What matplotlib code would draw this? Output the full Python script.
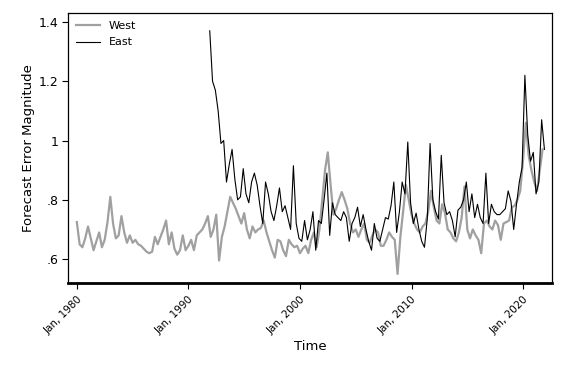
import matplotlib
matplotlib.use("Agg")
import matplotlib.pyplot as plt
import pandas as pd

west_start = "1980-01-01"
west = [
    0.725, 0.65, 0.64, 0.67, 0.71, 0.67, 0.63, 0.66,
    0.69, 0.64, 0.665, 0.725, 0.81, 0.72, 0.67, 0.68,
    0.745, 0.69, 0.655, 0.68, 0.655, 0.665, 0.65, 0.645,
    0.635, 0.625, 0.62, 0.625, 0.675, 0.65, 0.675, 0.70,
    0.73, 0.65, 0.69, 0.635, 0.615, 0.63, 0.68, 0.63,
    0.645, 0.665, 0.63, 0.68, 0.69, 0.70, 0.72, 0.745,
    0.675, 0.70, 0.75, 0.595, 0.675, 0.71, 0.76, 0.81,
    0.79, 0.77, 0.745, 0.72, 0.755, 0.70, 0.67, 0.71,
    0.69, 0.70, 0.705, 0.73, 0.69, 0.66, 0.63, 0.605,
    0.665, 0.66, 0.63, 0.61, 0.665, 0.65, 0.64, 0.645,
    0.62, 0.635, 0.645, 0.62, 0.665, 0.69, 0.64, 0.70,
    0.80, 0.90, 0.96, 0.85, 0.75, 0.77, 0.80, 0.826,
    0.80, 0.77, 0.72, 0.69, 0.70, 0.675, 0.70, 0.72,
    0.665, 0.655, 0.68, 0.70, 0.69, 0.645, 0.645, 0.665,
    0.69, 0.675, 0.665, 0.55, 0.675, 0.76, 0.85, 0.80,
    0.75, 0.72, 0.70, 0.69, 0.71, 0.72, 0.76, 0.83,
    0.775, 0.73, 0.72, 0.785, 0.755, 0.70, 0.69, 0.67,
    0.66, 0.69, 0.74, 0.845, 0.70, 0.67, 0.70, 0.68,
    0.665, 0.62, 0.72, 0.73, 0.71, 0.70, 0.73, 0.715,
    0.665, 0.72, 0.725, 0.73, 0.775, 0.78, 0.80, 0.83,
    0.935, 1.06, 0.95, 0.90, 0.86, 0.83, 0.90, 0.97,
]

east_start = "1991-12-01"
east = [
    1.37, 1.20, 1.17, 1.10, 0.99, 1.00, 0.86, 0.92,
    0.97, 0.87, 0.80, 0.81, 0.905, 0.82, 0.79, 0.86,
    0.89, 0.85, 0.78, 0.72, 0.86, 0.82, 0.76, 0.73,
    0.78, 0.84, 0.76, 0.78, 0.74, 0.70, 0.915, 0.72,
    0.67, 0.66, 0.73, 0.665, 0.70, 0.76, 0.63, 0.73,
    0.72, 0.80, 0.89, 0.68, 0.79, 0.75, 0.74, 0.73,
    0.76, 0.74, 0.66, 0.72, 0.74, 0.775, 0.71, 0.75,
    0.70, 0.66, 0.63, 0.72, 0.67, 0.66, 0.70, 0.74,
    0.735, 0.78, 0.86, 0.69, 0.76, 0.86, 0.82, 0.995,
    0.79, 0.72, 0.755, 0.70, 0.66, 0.64, 0.735, 0.99,
    0.80, 0.76, 0.735, 0.95, 0.79, 0.75, 0.76, 0.73,
    0.675, 0.765, 0.775, 0.80, 0.86, 0.76, 0.82, 0.74,
    0.785, 0.74, 0.72, 0.89, 0.72, 0.785, 0.76, 0.75,
    0.75, 0.76, 0.77, 0.83, 0.795, 0.70, 0.785, 0.86,
    0.91, 1.22, 1.02, 0.93, 0.96, 0.82, 0.86, 1.07,
    0.97,
]

y_ticks = [0.6, 0.8, 1.0, 1.2, 1.4]
y_ticklabels = [".6", ".8", "1", "1.2", "1.4"]
x_tick_years = [1980, 1990, 2000, 2010, 2020]
x_ticklabels = ["Jan, 1980", "Jan, 1990", "Jan, 2000", "Jan, 2010", "Jan, 2020"]

west_dates = pd.date_range(west_start, periods=len(west), freq="3MS")
east_dates = pd.date_range(east_start, periods=len(east), freq="3MS")

fig = plt.figure(figsize=(5.66, 3.77), dpi=100)
ax = fig.add_axes([0.120, 0.249, 0.855, 0.7165])

ax.plot(west_dates, west, color="#a0a0a0", lw=1.6, label="West")
ax.plot(east_dates, east, color="black", lw=0.8, label="East")

ax.set_xlim(pd.Timestamp("1979-03-15"), pd.Timestamp("2022-08-01"))
ax.set_ylim(0.519, 1.43)
ax.set_yticks(y_ticks)
ax.set_yticklabels(y_ticklabels, fontsize=9)
ax.set_xticks([pd.Timestamp(f"{y}-01-01") for y in x_tick_years])
ax.set_xticklabels(x_ticklabels, rotation=45, ha="right", rotation_mode="anchor", fontsize=7.5)
ax.tick_params(axis="both", direction="out", length=4, width=0.8)
ax.tick_params(axis="y", pad=2.5)
ax.tick_params(axis="x", pad=4)

for s in ["left", "top", "right"]:
    ax.spines[s].set_linewidth(0.9)
ax.spines["bottom"].set_linewidth(2.0)

ax.set_ylabel("Forecast Error Magnitude", fontsize=9.5, labelpad=3)
ax.set_xlabel("Time", fontsize=9.5, labelpad=3)

leg = ax.legend(loc="upper left", frameon=False, fontsize=8, handlelength=2.2,
                borderaxespad=0.3, labelspacing=0.6)

fig.savefig("out.png", dpi=100)
